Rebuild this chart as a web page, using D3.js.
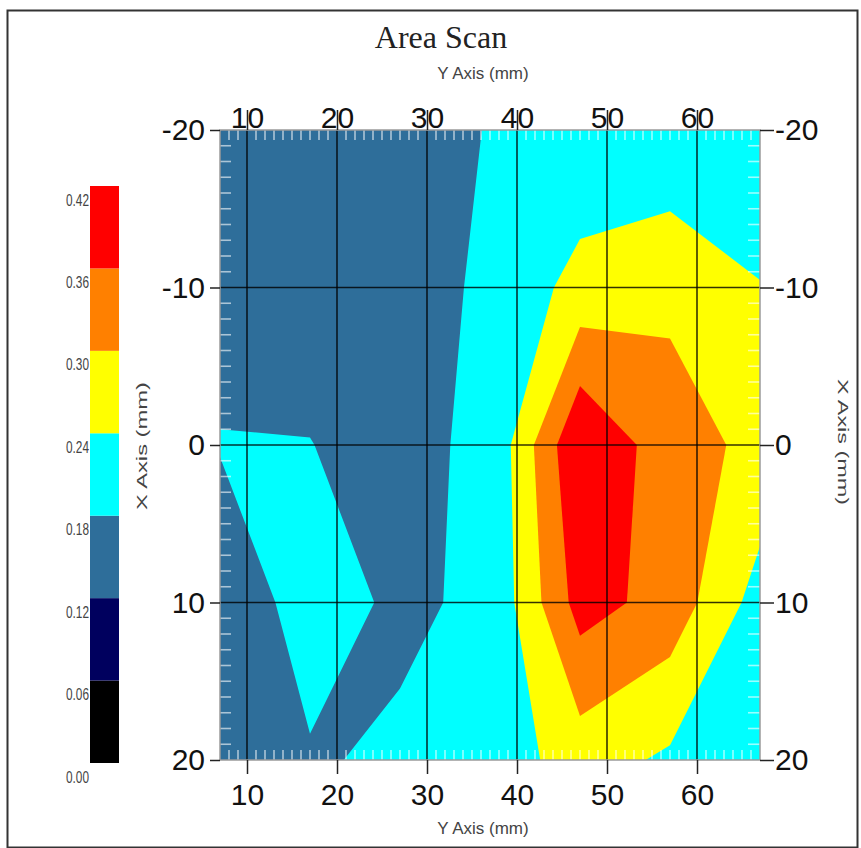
<!DOCTYPE html>
<html><head><meta charset="utf-8">
<script src="https://cdn.jsdelivr.net/npm/d3@7"></script>
<style>body{margin:0;background:#fff;} svg{display:block;}</style>
</head><body><svg id="chart" width="861" height="848"></svg>
<script>
// ---- data ----
const chartTitle = "Area Scan";
const yAxisLabel = "Y Axis (mm)";
const xAxisLabel = "X Axis (mm)";
const yAxisTicks = [10, 20, 30, 40, 50, 60];       // horizontal axis
const xAxisTicks = [-20, -10, 0, 10, 20];          // vertical axis
const scanColumnsY = [7, 17, 27, 37, 47, 57, 67];  // Y positions of scan grid (mm)
const scanRowsX = [-20, -10, 0, 10, 20];           // X positions of scan grid (mm)
const rowXm20 = [0.150, 0.150, 0.150, 0.183, 0.195, 0.189, 0.200];
const rowXm10 = [0.162, 0.172, 0.153, 0.191, 0.260, 0.288, 0.242];
const rowX0   = [0.182, 0.1804, 0.1724, 0.186, 0.420, 0.325, 0.285];
const rowX10  = [0.156, 0.195, 0.174, 0.1865, 0.385, 0.337, 0.215];
const rowX20  = [0.160, 0.177, 0.185, 0.206, 0.267, 0.230, 0.190];
const levels = [0.00, 0.06, 0.12, 0.18, 0.24, 0.30, 0.36, 0.42];
const levelLabels = ["0.00", "0.06", "0.12", "0.18", "0.24", "0.30", "0.36", "0.42"];
const bandColors = ["#000000", "#00005e", "#2e6e9a", "#00ffff", "#ffff00", "#ff8000", "#ff0000"];

// ---- layout ----
const svg = d3.select("#chart");
const P = {left: 220, right: 760, top: 130, bottom: 760};
const x = d3.scaleLinear().domain([7, 67]).range([P.left, P.right]);
const y = d3.scaleLinear().domain([-20, 20]).range([P.top, P.bottom]);
const sans = "Arial, 'Liberation Sans', sans-serif";

// outer frame
svg.append("rect").attr("x", 7.5).attr("y", 10.5).attr("width", 850).attr("height", 837)
  .attr("fill", "#fff").attr("stroke", "#333").attr("stroke-width", 2);

// ---- contour fill ----
const grid = [rowXm20, rowXm10, rowX0, rowX10, rowX20].flat();
const nx = scanColumnsY.length, ny = scanRowsX.length;
const gx = d3.scaleLinear().domain([0.5, nx - 0.5]).range([x(scanColumnsY[0]), x(scanColumnsY[nx - 1])]);
const gy = d3.scaleLinear().domain([0.5, ny - 0.5]).range([y(scanRowsX[0]), y(scanRowsX[ny - 1])]);
const fillLevels = levels.slice(2, 7);
const contours = d3.contours().size([nx, ny]).thresholds(fillLevels)(grid);
const path = d3.geoPath(d3.geoTransform({point: function(px, py) { this.stream.point(gx(px), gy(py)); }}));

svg.append("clipPath").attr("id", "plotclip").append("rect")
  .attr("x", P.left).attr("y", P.top).attr("width", P.right - P.left).attr("height", P.bottom - P.top);
const plot = svg.append("g").attr("clip-path", "url(#plotclip)");
plot.selectAll("path.band").data(contours).join("path")
  .attr("class", "band")
  .attr("d", path)
  .attr("fill", (d, i) => bandColors[levels.indexOf(fillLevels[i])]);

// minor ticks (inside, light)
const minorY = d3.range(8, 67).filter(v => v % 10 !== 0);
const minorX = d3.range(-19, 20).filter(v => v % 10 !== 0);
const mt = plot.append("g").attr("stroke", "rgba(255,255,255,0.6)").attr("stroke-width", 1.6);
mt.selectAll("line.mt").data(minorY).join("line").attr("x1", d => x(d)).attr("x2", d => x(d)).attr("y1", P.top).attr("y2", P.top + 10);
mt.selectAll("line.mb").data(minorY).join("line").attr("x1", d => x(d)).attr("x2", d => x(d)).attr("y1", P.bottom).attr("y2", P.bottom - 10);
mt.selectAll("line.ml").data(minorX).join("line").attr("y1", d => y(d)).attr("y2", d => y(d)).attr("x1", P.left).attr("x2", P.left + 11);
mt.selectAll("line.mr").data(minorX).join("line").attr("y1", d => y(d)).attr("y2", d => y(d)).attr("x1", P.right).attr("x2", P.right - 12);

// grid lines
const gl = svg.append("g").attr("stroke", "rgba(0,0,0,0.8)").attr("stroke-width", 1.6);
gl.selectAll("line.v").data(yAxisTicks).join("line").attr("x1", d => x(d)).attr("x2", d => x(d)).attr("y1", P.top).attr("y2", P.bottom);
gl.selectAll("line.h").data(xAxisTicks.slice(1, -1)).join("line").attr("y1", d => y(d)).attr("y2", d => y(d)).attr("x1", P.left).attr("x2", P.right);

// plot border
svg.append("rect").attr("x", P.left).attr("y", P.top).attr("width", P.right - P.left).attr("height", P.bottom - P.top)
  .attr("fill", "none").attr("stroke", "#9a9a9a").attr("stroke-width", 1.5);

// ---- axes ----
const fmt = d => String(d);
function styleAxis(g) {
  g.select(".domain").remove();
  g.selectAll(".tick line").attr("stroke", "#222").attr("stroke-width", 1.5);
  g.selectAll(".tick text").attr("fill", "#111").style("font-family", sans).style("font-size", "30px");
}
svg.append("g").attr("transform", `translate(0,${P.top})`)
  .call(d3.axisTop(x).tickValues(yAxisTicks).tickFormat(fmt).tickSize(20).tickPadding(-18)).call(styleAxis);
svg.append("g").attr("transform", `translate(0,${P.bottom})`)
  .call(d3.axisBottom(x).tickValues(yAxisTicks).tickFormat(fmt).tickSize(14).tickPadding(10)).call(styleAxis);
svg.append("g").attr("transform", `translate(${P.left},0)`)
  .call(d3.axisLeft(y).tickValues(xAxisTicks).tickFormat(fmt).tickSize(10).tickPadding(5)).call(styleAxis);
svg.append("g").attr("transform", `translate(${P.right},0)`)
  .call(d3.axisRight(y).tickValues(xAxisTicks).tickFormat(fmt).tickSize(14).tickPadding(1)).call(styleAxis);

// titles
svg.append("text").attr("x", 441).attr("y", 48).attr("text-anchor", "middle")
  .style("font-family", "'Times New Roman', 'Liberation Serif', serif").style("font-size", "32px")
  .attr("fill", "#222").text(chartTitle);
svg.append("text").attr("x", 483).attr("y", 79).attr("text-anchor", "middle")
  .style("font-family", sans).style("font-size", "17px").attr("fill", "#444").text(yAxisLabel);
svg.append("text").attr("x", 483).attr("y", 834).attr("text-anchor", "middle")
  .style("font-family", sans).style("font-size", "17px").attr("fill", "#444").text(yAxisLabel);
svg.append("text").attr("transform", "translate(141,446) rotate(-90)").attr("text-anchor", "middle")
  .attr("dominant-baseline", "central").attr("textLength", 128).attr("lengthAdjust", "spacingAndGlyphs")
  .style("font-family", sans).style("font-size", "15px").attr("fill", "#444").text(xAxisLabel);
svg.append("text").attr("transform", "translate(843,442) rotate(90)").attr("text-anchor", "middle")
  .attr("dominant-baseline", "central").attr("textLength", 126).attr("lengthAdjust", "spacingAndGlyphs")
  .style("font-family", sans).style("font-size", "15px").attr("fill", "#444").text(xAxisLabel);

// ---- legend ----
const ly = d3.scaleLinear().domain([0, 0.42]).range([763, 186]);
const lg = svg.append("g");
lg.selectAll("rect").data(bandColors).join("rect")
  .attr("x", 90).attr("width", 29)
  .attr("y", (d, i) => ly(levels[i + 1]))
  .attr("height", (d, i) => ly(levels[i]) - ly(levels[i + 1]))
  .attr("fill", d => d);
lg.selectAll("text").data(levels).join("text")
  .attr("x", 66).attr("y", d => ly(d) + 14)
  .attr("dominant-baseline", "central")
  .attr("textLength", 23).attr("lengthAdjust", "spacingAndGlyphs")
  .style("font-family", sans).style("font-size", "16px").attr("fill", "#444")
  .text((d, i) => levelLabels[i]);
</script></body></html>
